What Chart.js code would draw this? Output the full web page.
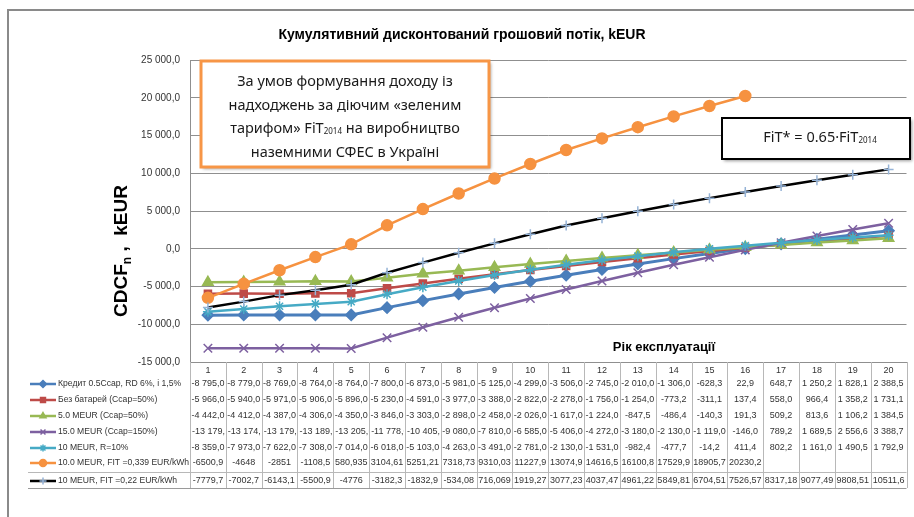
<!DOCTYPE html>
<html>
<head>
<meta charset="utf-8">
<script src="https://cdn.jsdelivr.net/npm/chart.js@4/dist/chart.umd.min.js"></script>
<style>
  html, body { margin: 0; padding: 0; background: #fff; }
  #wrap { position: relative; width: 914px; height: 517px; }
</style>
</head>
<body>
<div id="wrap"><canvas id="cdcf" width="914" height="517"></canvas></div>
<script>
/* Кумулятивний дисконтований грошовий потік — line chart + data table */

const YEARS = ['1', '2', '3', '4', '5', '6', '7', '8', '9', '10',
               '11', '12', '13', '14', '15', '16', '17', '18', '19', '20'];

const Y_TICKS = [-15000, -10000, -5000, 0, 5000, 10000, 15000, 20000, 25000];

const SERIES_NAMES = [
  'Кредит 0.5Ccap, RD 6%, i 1,5%',
  'Без батарей (Ccap=50%)',
  '5.0 MEUR (Ccap=50%)',
  '15.0 MEUR (Ccap=150%)',
  '10 MEUR, R=10%',
  '10.0 MEUR, FIT =0,339 EUR/kWh',
  '10 MEUR, FIT =0,22 EUR/kWh'
];

const kredyt = [-8795, -8779, -8769, -8764, -8764, -7800, -6873, -5981, -5125, -4299,
                -3506, -2745, -2010, -1306, -628.3, 22.9, 648.7, 1250.2, 1828.1, 2388.5];
const bezBatarei = [-5966, -5940, -5971, -5906, -5896, -5230, -4591, -3977, -3388, -2822,
                    -2278, -1756, -1254, -773.2, -311.1, 137.4, 558.0, 966.4, 1358.2, 1731.1];
const meur5 = [-4442, -4412, -4387, -4306, -4350, -3846, -3303, -2898, -2458, -2026,
               -1617, -1224, -847.5, -486.4, -140.3, 191.3, 509.2, 813.6, 1106.2, 1384.5];
const meur15 = [-13179, -13174, -13179, -13189, -13205, -11778, -10405, -9080, -7810, -6585,
                -5406, -4272, -3180, -2130, -1119, -146.0, 789.2, 1689.5, 2556.6, 3388.7];
const rate10 = [-8359, -7973, -7622, -7308, -7014, -6018, -5103, -4263, -3491, -2781,
                -2130, -1531, -982.4, -477.7, -14.2, 411.4, 802.2, 1161.0, 1490.5, 1792.9];
const fit339 = [-6500.9, -4648, -2851, -1108.5, 580.935, 3104.61, 5251.21, 7318.73, 9310.03, 11227.9,
                13074.9, 14616.5, 16100.8, 17529.9, 18905.7, 20230.2, null, null, null, null];
const fit022 = [-7779.7, -7002.7, -6143.1, -5500.9, -4776, -3182.3, -1832.9, -534.08, 716.069, 1919.27,
                3077.23, 4037.47, 4961.22, 5849.81, 6704.51, 7526.57, 8317.18, 9077.49, 9808.51, 10511.6];

const SERIES_DATA = [kredyt, bezBatarei, meur5, meur15, rate10, fit339, fit022];

// Excel-like styling
const LINE_COLORS  = ['#4A7EBB', '#BE4B48', '#98B954', '#7D60A0', '#46AAC5', '#F69240', '#000000'];
const POINT_COLORS = ['#4A7EBB', '#BE4B48', '#98B954', '#7D60A0', '#46AAC5', '#F69240', '#95B3D7'];
const POINT_STYLES = ['rectRot', 'rect', 'triangle', 'crossRot', 'star', 'circle', 'cross'];
const POINT_RADII  = [5.5, 5, 6, 6, 5, 5.5, 5];
const LINE_WIDTHS  = [3, 2.5, 2.5, 2.5, 2.5, 2.5, 2.5];
const GENERAL_FMT  = [false, false, false, false, false, true, true];

const FONT = "'Liberation Sans', Arial, sans-serif";
const FONT_NARROW = "'Liberation Sans Narrow', 'Liberation Sans', Arial, sans-serif";
const GRID = '#8f8f8f';
const TABLE_LINE = '#b8b8b8';

// "# ##0,0"
function fmtGroup(v) {
  const parts = Math.abs(v).toFixed(1).split('.');
  const int = parts[0].replace(/\B(?=(\d{3})+(?!\d))/g, ' ');
  return (v < 0 ? '-' : '') + int + ',' + parts[1];
}
function fmtGeneral(v) {
  return String(v).replace('.', ',');
}

// ─── Annotations, titles, data table ─────────────────────────────
const decorPlugin = {
  id: 'decor',
  afterDraw(chart) {
    const { ctx } = chart;
    const x = chart.scales.x;
    const area = chart.chartArea;
    const colW = (area.right - area.left) / YEARS.length;

    ctx.save();

    // outer chart border (left & top visible)
    ctx.strokeStyle = '#8a8a8a';
    ctx.lineWidth = 2;
    ctx.beginPath();
    ctx.moveTo(8, 517);
    ctx.lineTo(8, 10);
    ctx.lineTo(914, 10);
    ctx.stroke();

    // title
    ctx.fillStyle = '#000';
    ctx.font = `bold 14px ${FONT}`;
    ctx.textAlign = 'center';
    ctx.textBaseline = 'middle';
    ctx.fillText('Кумулятивний дисконтований грошовий потік, kEUR', 462, 35);

    // y axis title with subscript
    ctx.save();
    ctx.translate(122, 251);
    ctx.rotate(-Math.PI / 2);
    ctx.textAlign = 'left';
    ctx.textBaseline = 'middle';
    const big = `bold 19px ${FONT}`, small = `bold 12px ${FONT}`;
    const pieces = [['CDCF', big, 0], ['n', small, 6], [' ,  kEUR', big, 0]];
    let total = 0;
    pieces.forEach(([t, f]) => { ctx.font = f; total += ctx.measureText(t).width; });
    let cx = -total / 2;
    pieces.forEach(([t, f, dy]) => { ctx.font = f; ctx.fillText(t, cx, dy); cx += ctx.measureText(t).width; });
    ctx.restore();

    // x axis title
    ctx.font = `bold 13px ${FONT}`;
    ctx.textAlign = 'center';
    ctx.fillText('Рік експлуатації', 664, 347);

    // ── data table ──
    const tTop = area.bottom, tBottom = 488, tLeft = 28, tRight = area.right;
    const rowY = [384, 400, 416, 432, 448, 463, 481];

    ctx.strokeStyle = TABLE_LINE;
    ctx.lineWidth = 1;
    ctx.beginPath();
    for (let i = 0; i <= YEARS.length; i++) {
      const lx = Math.round(area.left + i * colW) + 0.5;
      ctx.moveTo(lx, tTop);
      ctx.lineTo(lx, tBottom);
    }
    ctx.moveTo(tLeft, 472.5); ctx.lineTo(tRight, 472.5);
    ctx.stroke();
    ctx.strokeStyle = '#9a9a9a';
    ctx.beginPath();
    ctx.moveTo(tLeft, tBottom + 0.5); ctx.lineTo(tRight, tBottom + 0.5);
    ctx.stroke();

    SERIES_DATA.forEach((vals, s) => {
      const y = rowY[s];
      // legend key
      ctx.strokeStyle = LINE_COLORS[s];
      ctx.lineWidth = 2.5;
      ctx.beginPath();
      ctx.moveTo(30, y); ctx.lineTo(56, y);
      ctx.stroke();
      ctx.fillStyle = POINT_COLORS[s];
      ctx.strokeStyle = POINT_COLORS[s];
      ctx.lineWidth = 1.5;
      Chart.helpers.drawPoint(ctx, { pointStyle: POINT_STYLES[s], radius: 3.5, rotation: 0, borderWidth: 1.5 }, 43, y);

      ctx.fillStyle = '#333';
      ctx.font = `8.6px ${FONT_NARROW}`;
      ctx.textAlign = 'left';
      ctx.textBaseline = 'middle';
      ctx.save();
      ctx.beginPath();
      ctx.rect(56, y - 8, 133, 16);
      ctx.clip();
      ctx.fillText(SERIES_NAMES[s], 58, y);
      ctx.restore();

      ctx.font = `9px ${FONT_NARROW}`;
      vals.forEach((v, i) => {
        if (v === null) return;
        const txt = GENERAL_FMT[s] ? fmtGeneral(v) : fmtGroup(v);
        const c = x.getPixelForValue(i);
        const x0 = c - colW / 2 + 1, w = colW - 2;
        ctx.save();
        ctx.beginPath();
        ctx.rect(x0, y - 8, w, 16);
        ctx.clip();
        const tw = ctx.measureText(txt).width;
        if (tw > w) { ctx.textAlign = 'left'; ctx.fillText(txt, x0 + 1, y); }
        else { ctx.textAlign = 'center'; ctx.fillText(txt, c, y); }
        ctx.restore();
      });
    });

    // ── annotation box 1 (orange) ──
    ctx.save();
    ctx.shadowColor = 'rgba(0,0,0,0.35)';
    ctx.shadowBlur = 3;
    ctx.shadowOffsetX = 2;
    ctx.shadowOffsetY = 2;
    ctx.fillStyle = '#fff';
    ctx.fillRect(201, 61, 288, 106);
    ctx.restore();
    ctx.strokeStyle = '#F79646';
    ctx.lineWidth = 3;
    ctx.strokeRect(201, 61, 288, 106);

    ctx.fillStyle = '#1a1a1a';
    ctx.textAlign = 'center';
    ctx.textBaseline = 'middle';
    ctx.font = `14.5px 'Noto Sans', ${FONT}`;
    ctx.fillText('За умов формування доходу із', 345, 82);
    ctx.fillText('надходжень за діючим «зеленим', 345, 106);
    ctx.fillText('наземними СФЕС в Україні', 345, 153);
    // line 3 with FiT subscript
    const l3 = [['тарифом» ', `14.5px 'Noto Sans', ${FONT}`, 0],
                ['FiT', `14.5px 'Noto Sans', ${FONT}`, 0],
                ['2014', `8px 'Noto Sans', ${FONT}`, 3],
                [' на виробництво', `14.5px 'Noto Sans', ${FONT}`, 0]];
    drawRuns(ctx, l3, 345, 129);

    // ── annotation box 2 (black) ──
    ctx.save();
    ctx.shadowColor = 'rgba(0,0,0,0.4)';
    ctx.shadowBlur = 3;
    ctx.shadowOffsetX = 2;
    ctx.shadowOffsetY = 2;
    ctx.fillStyle = '#fff';
    ctx.fillRect(722, 118, 188, 41);
    ctx.restore();
    ctx.strokeStyle = '#000';
    ctx.lineWidth = 2;
    ctx.strokeRect(722, 118, 188, 41);
    ctx.fillStyle = '#1a1a1a';
    const l4 = [['FiT* = 0.65·FiT', `14.5px 'Noto Sans', ${FONT}`, 0],
                ['2014', `8px 'Noto Sans', ${FONT}`, 3]];
    drawRuns(ctx, l4, 820, 138);

    ctx.restore();
  }
};

function drawRuns(ctx, runs, cx, cy) {
  ctx.save();
  ctx.textAlign = 'left';
  ctx.textBaseline = 'middle';
  let total = 0;
  runs.forEach(([t, f]) => { ctx.font = f; total += ctx.measureText(t).width; });
  let px = cx - total / 2;
  runs.forEach(([t, f, dy]) => { ctx.font = f; ctx.fillText(t, px, cy + dy); px += ctx.measureText(t).width; });
  ctx.restore();
}

const datasets = SERIES_DATA.map((vals, i) => ({
  label: SERIES_NAMES[i],
  data: vals,
  borderColor: LINE_COLORS[i],
  backgroundColor: POINT_COLORS[i],
  pointBorderColor: POINT_COLORS[i],
  pointBackgroundColor: POINT_COLORS[i],
  pointStyle: POINT_STYLES[i],
  pointRadius: POINT_RADII[i],
  pointBorderWidth: 1.5,
  borderWidth: LINE_WIDTHS[i],
  tension: 0,
  fill: false,
  spanGaps: false,
  order: SERIES_DATA.length - i
}));

new Chart(document.getElementById('cdcf').getContext('2d'), {
  type: 'line',
  data: { labels: YEARS, datasets },
  options: {
    responsive: false,
    animation: false,
    events: [],
    layout: { padding: { left: 0, right: 3, top: 60, bottom: 0 } },
    plugins: {
      legend: { display: false },
      title: { display: false },
      tooltip: { enabled: false }
    },
    scales: {
      x: {
        offset: true,
        grid: { display: false, drawTicks: false },
        border: { display: true, color: GRID, width: 1 },
        ticks: {
          color: '#333',
          font: { family: FONT_NARROW, size: 9 },
          padding: 3,
          autoSkip: false,
          maxRotation: 0
        },
        afterFit(scale) { scale.height = 155; }
      },
      y: {
        min: -15000,
        max: 25000,
        afterBuildTicks(scale) { scale.ticks = Y_TICKS.map(v => ({ value: v })); },
        grid: { color: GRID, lineWidth: 1, drawTicks: false },
        border: { display: true, color: GRID, width: 1 },
        ticks: {
          color: '#333',
          font: { family: FONT_NARROW, size: 10 },
          padding: 10,
          callback: v => fmtGroup(v)
        },
        afterFit(scale) { scale.width = 190; }
      }
    }
  },
  plugins: [decorPlugin]
});
</script>
</body>
</html>
